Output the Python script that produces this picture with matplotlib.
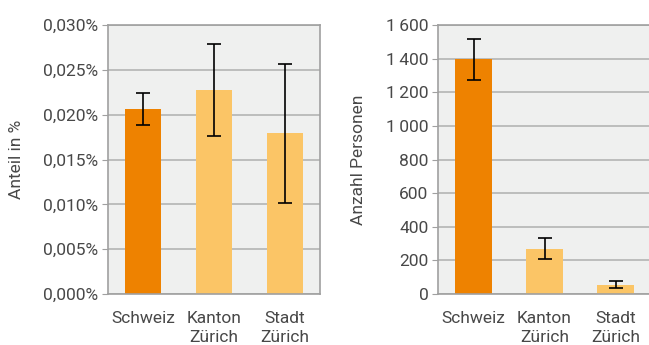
import numpy as np
import matplotlib.pyplot as plt

plt.rcParams['font.family'] = ['Roboto', 'DejaVu Sans']
plt.rcParams['font.weight'] = 'normal'
plt.rcParams['axes.labelweight'] = 'normal'
plt.rcParams['font.size'] = 12.5

# daten
kategorien = ['Schweiz', 'Kanton\nZürich', 'Stadt\nZürich']
anteil = [0.0206, 0.0227, 0.0179]
anteil_lo = [0.0188, 0.0176, 0.0102]
anteil_hi = [0.0224, 0.0279, 0.0256]
personen = [1395, 270, 55]
personen_lo = [1270, 208, 33]
personen_hi = [1515, 333, 80]

farben = ['#EE8200', '#FBC566', '#FBC566']
textfarbe = '#484848'

fig = plt.figure(figsize=(6.49, 3.45), dpi=100)
W, H = 649, 345

def achse(x0, x1, y0, y1):
    return fig.add_axes([x0 / W, 1 - y1 / H, (x1 - x0) / W, (y1 - y0) / H])

ax1 = achse(108, 320, 25, 294)
ax2 = achse(438, 651, 25, 294)

def zeichne(ax, werte, lo, hi, ymax, ticks, ticklabels, ylabel):
    x = np.arange(len(werte))
    err = [np.array(werte) - np.array(lo), np.array(hi) - np.array(werte)]
    ax.set_facecolor('#EFF0EF')
    ax.bar(x, werte, width=0.51, color=farben, zorder=2)
    ax.errorbar(x, werte, yerr=err, fmt='none', ecolor='black', elinewidth=1.2,
                capsize=5, capthick=1.2, zorder=3)
    ax.set_xlim(-0.5, 2.5)
    ax.set_ylim(0, ymax)
    ax.set_yticks(ticks)
    ax.set_yticklabels(ticklabels)
    ax.set_xticks(x)
    ax.set_xticklabels(kategorien, linespacing=1.4)
    ax.yaxis.grid(True, color='#B4B4B4', linewidth=1.2, zorder=1)
    ax.set_axisbelow(True)
    for s in ax.spines.values():
        s.set_color('#A0A0A0')
        s.set_linewidth(1.2)
    ax.tick_params(axis='x', length=0, pad=12, colors=textfarbe)
    ax.tick_params(axis='y', length=4, color='#A0A0A0', pad=3, colors=textfarbe)
    ax.set_ylabel(ylabel, color=textfarbe, labelpad=14)

t1 = np.arange(0, 0.0301, 0.005)
zeichne(ax1, anteil, anteil_lo, anteil_hi, 0.030, t1,
        ['{:.3f}%'.format(v).replace('.', ',') for v in t1], 'Anteil in %')
t2 = np.arange(0, 1601, 200)
zeichne(ax2, personen, personen_lo, personen_hi, 1600, t2,
        ['{:,}'.format(v).replace(',', '\u2009') for v in t2], 'Anzahl Personen')

fig.savefig('out.png', dpi=100)
